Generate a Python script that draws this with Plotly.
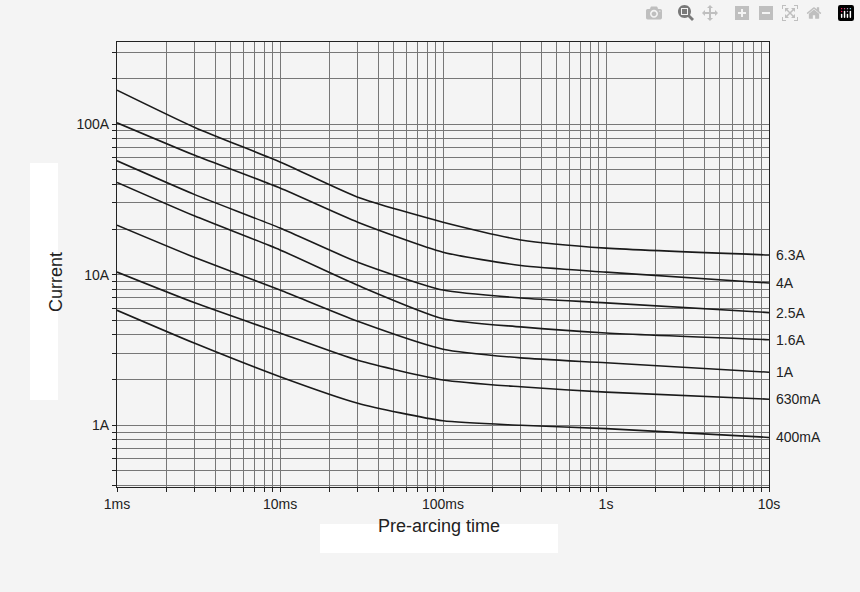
import math
import plotly.graph_objects as go

times = [0.001, 0.003, 0.01, 0.03, 0.1, 0.3, 1, 10]
series = {
    "6.3A":  [168, 95, 56, 32.7, 22.3, 17, 15, 13.5],
    "4A":    [102, 62, 37.6, 22.3, 14.1, 11.5, 10.4, 8.8],
    "2.5A":  [57, 34, 20.4, 12.1, 7.9, 7.0, 6.5, 5.6],
    "1.6A":  [41, 24.5, 14.6, 8.5, 5.1, 4.5, 4.1, 3.7],
    "1A":    [21.3, 13, 7.9, 4.9, 3.2, 2.8, 2.6, 2.25],
    "630mA": [10.4, 6.5, 4.1, 2.7, 2.0, 1.8, 1.66, 1.49],
    "400mA": [5.8, 3.5, 2.1, 1.4, 1.07, 1.0, 0.95, 0.83],
}
xmajor = {0.001: "1ms", 0.01: "10ms", 0.1: "100ms", 1: "1s", 10: "10s"}
ymajor = {1: "1A", 10: "10A", 100: "100A"}

def all_ticks(decades, major):
    vals, txt = [], []
    for d in decades:
        for m in range(1, 10):
            v = round(m * 10 ** d, 6)
            vals.append(v)
            txt.append(major.get(v, ""))
    return vals, txt

xv, xt = all_ticks(range(-3, 2), xmajor)
xv, xt = xv[:37], xt[:37]
yv, yt = all_ticks(range(-1, 3), ymajor)

fig = go.Figure()
for name, vals in series.items():
    fig.add_trace(go.Scatter(x=times, y=vals, mode="lines",
                             line=dict(color="#1a1a1a", width=1.6, shape="spline", smoothing=0.6),
                             showlegend=False, hoverinfo="skip"))
    fig.add_annotation(x=1, xref="x", y=math.log10(vals[-1]), yref="y", text=name,
                       showarrow=False, xanchor="left", xshift=5,
                       font=dict(size=14, color="#222"))

common = dict(type="log", showline=True, linecolor="#222", mirror=True, linewidth=1.2,
              gridcolor="#777", gridwidth=0.8, ticks="outside", tickcolor="#222", ticklen=4,
              tickfont=dict(size=14, color="#222"), zeroline=False, tickmode="array")
fig.update_xaxes(range=[-3, 1], tickvals=xv, ticktext=xt, **common)
fig.update_yaxes(range=[-0.41, 2.545], tickvals=yv, ticktext=yt, **common)

# white label boxes
fig.add_shape(type="rect", xref="paper", yref="paper", layer="below", line_width=0,
              fillcolor="white", x0=(30 - 117) / 652, x1=(58 - 117) / 652,
              y0=(487 - 400) / 445, y1=(487 - 163) / 445)
fig.add_shape(type="rect", xref="paper", yref="paper", layer="below", line_width=0,
              fillcolor="white", x0=(320 - 117) / 652, x1=(558 - 117) / 652,
              y0=-(553 - 487) / 445, y1=-(524 - 487) / 445)
fig.add_annotation(x=(44 - 117) / 652, y=(487 - 282) / 445, xref="paper", yref="paper",
                   text="Current", showarrow=False, textangle=-90,
                   font=dict(size=18, color="#222"))
fig.add_annotation(x=(439 - 117) / 652, y=-(538 - 487) / 445, xref="paper", yref="paper",
                   text="Pre-arcing time", showarrow=False, font=dict(size=18, color="#222"))

fig.update_layout(width=860, height=592, margin=dict(l=117, r=91, t=42, b=105),
                  paper_bgcolor="#f4f4f4", plot_bgcolor="#f4f4f4",
                  font=dict(family="Liberation Sans, Arial, sans-serif"))
fig.write_html("out.html")
with open("out.html") as f:
    html = f.read()
html = html.replace("<body>", '<body style="margin:0">', 1)
with open("out.html", "w") as f:
    f.write(html)
